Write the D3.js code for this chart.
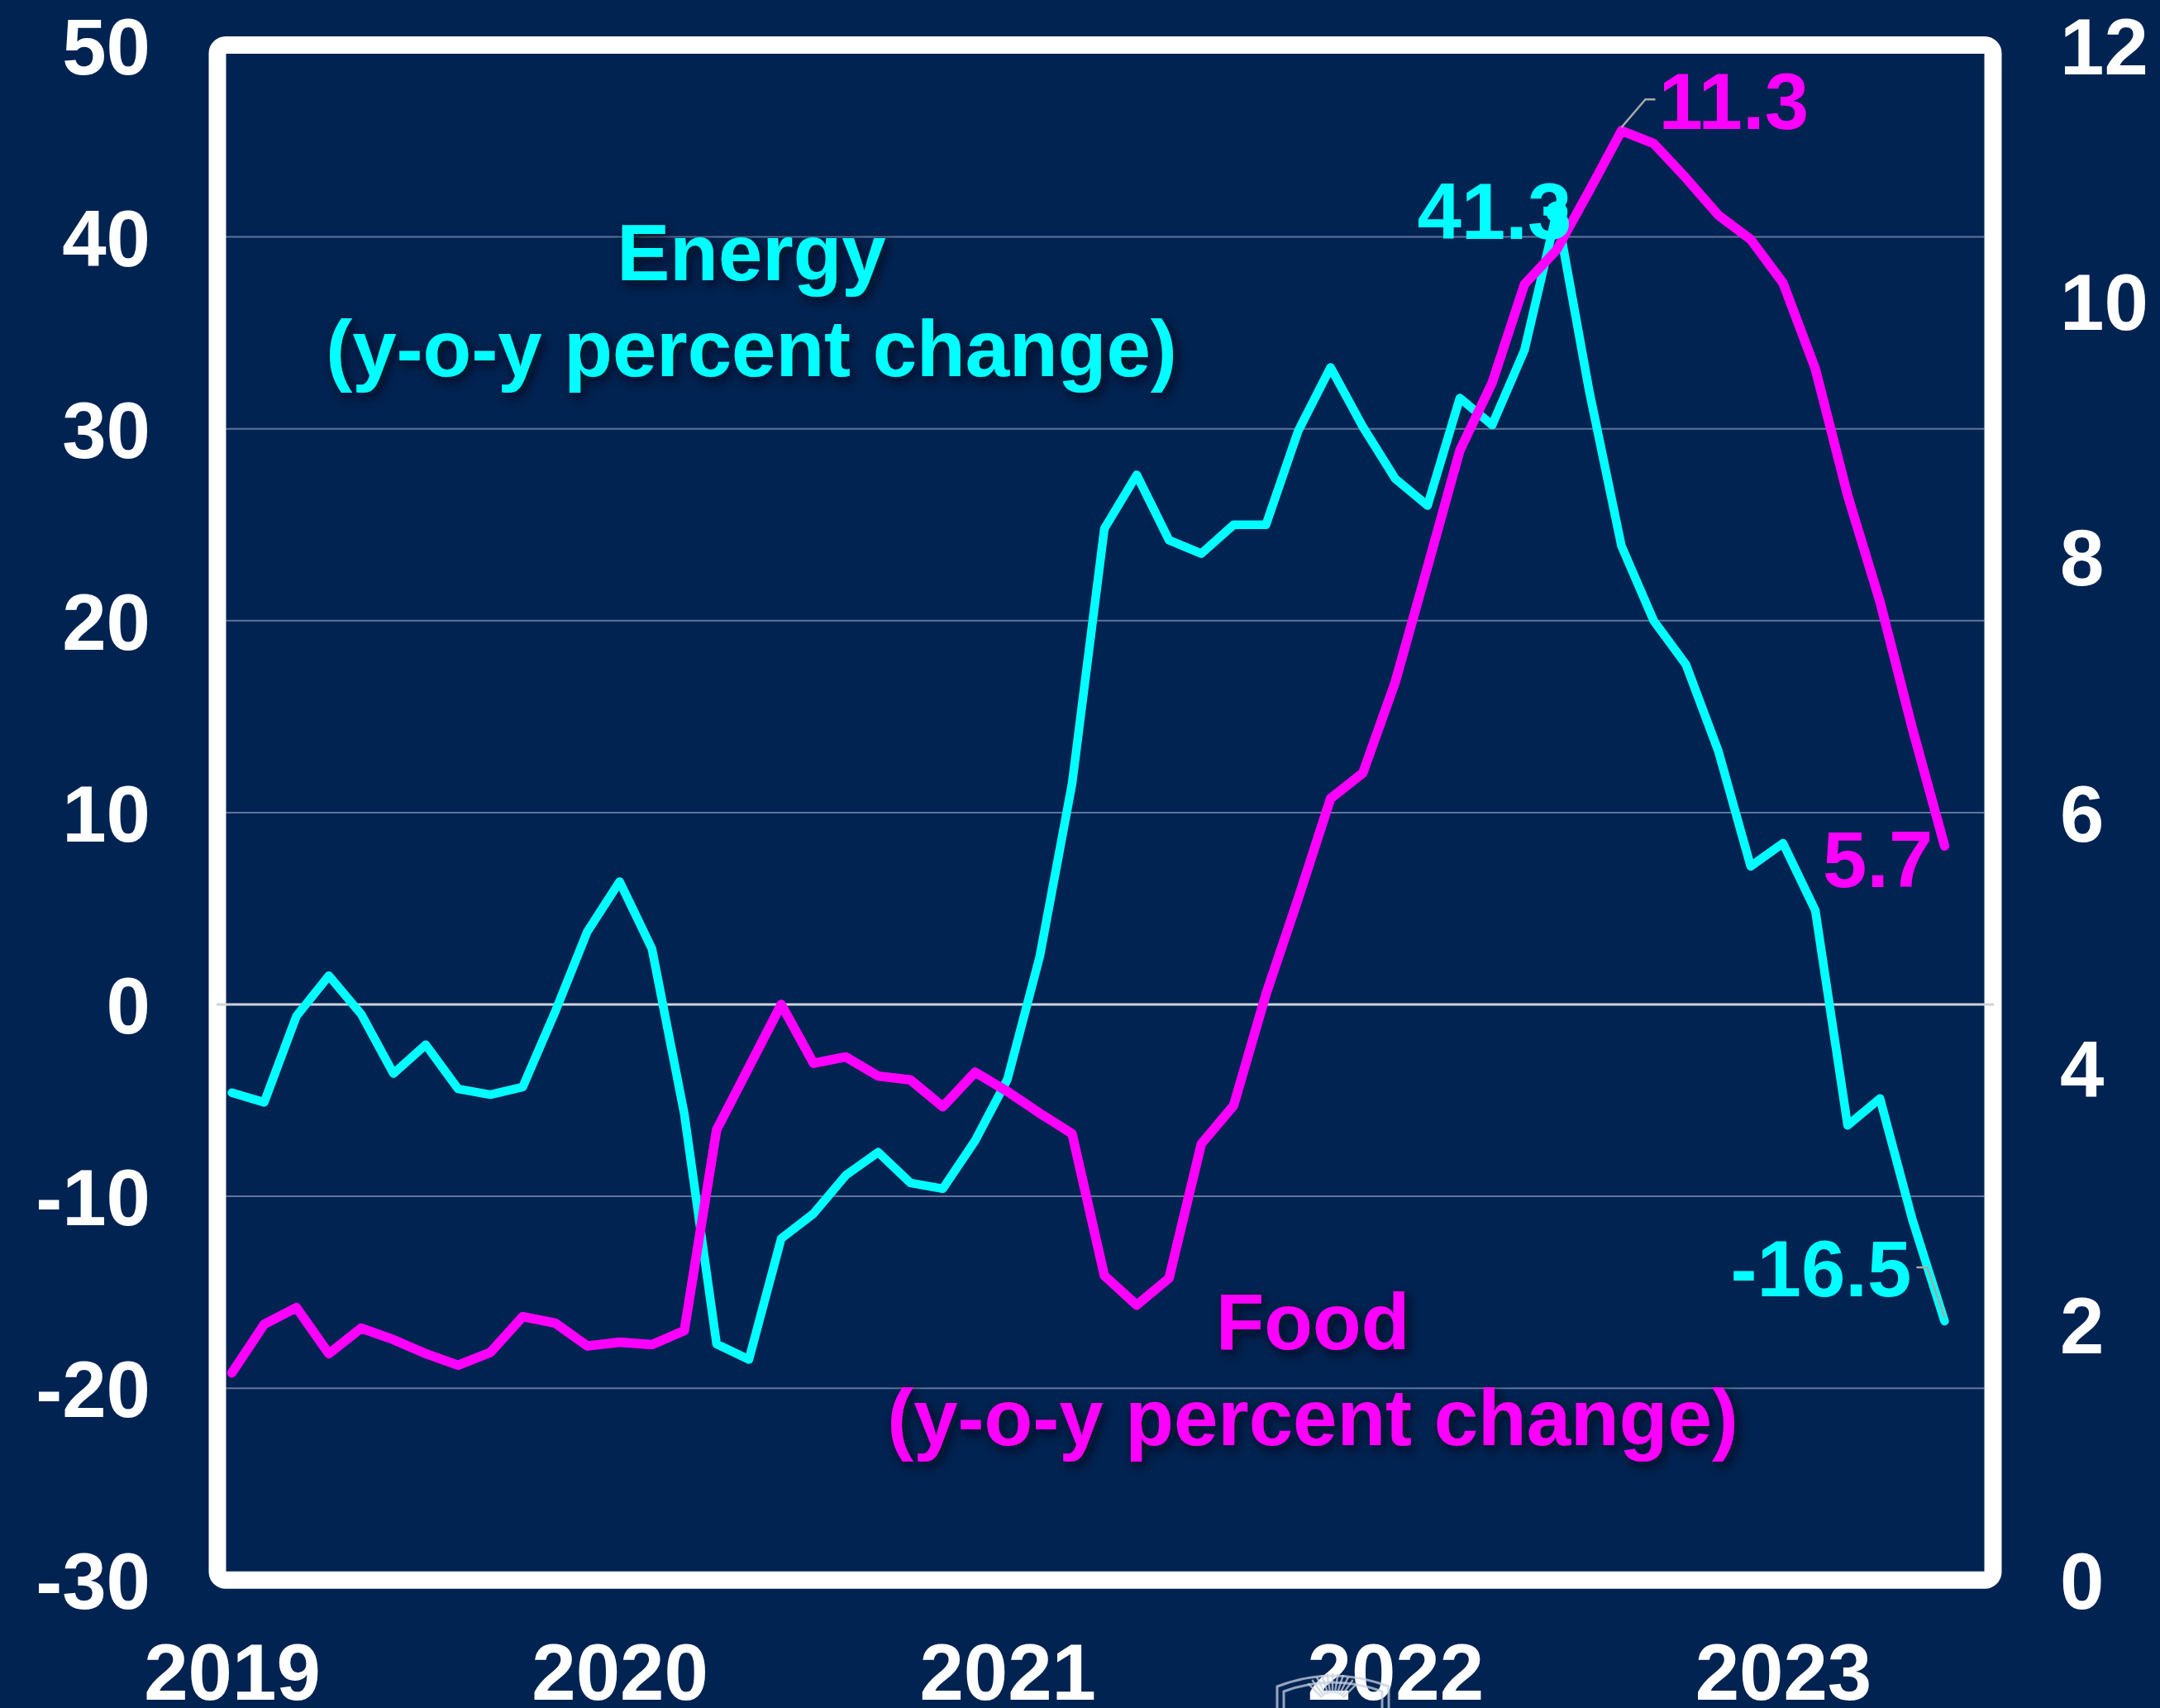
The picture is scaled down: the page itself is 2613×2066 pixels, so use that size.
<!DOCTYPE html>
<html>
<head>
<meta charset="utf-8">
<script src="https://cdn.jsdelivr.net/npm/d3@7"></script>
<style>
  html, body { margin: 0; padding: 0; background: #012352; }
  svg { display: block; }
  text { font-family: "Liberation Sans", Arial, sans-serif; font-weight: bold; }
</style>
</head>
<body>
<svg id="chart" width="2613" height="2066"></svg>
<script>
// ---- data (monthly, Jan 2019 - Jun 2023) ----
const months = d3.range(54); // month index from Jan 2019
const energy = [
  -4.6, -5.1, -0.6, 1.5, -0.5, -3.6, -2.1, -4.4, -4.7, -4.3, -0.4, 3.8,
  6.4, 2.9, -5.7, -17.7, -18.5, -12.2, -10.9, -8.9, -7.7, -9.3, -9.6, -7.1,
  -3.9, 2.5, 11.5, 24.8, 27.6, 24.2, 23.5, 25.0, 25.0, 29.9, 33.2, 30.1,
  27.4, 26.0, 31.6, 30.2, 34.1, 41.3, 32.0, 23.9, 20.0, 17.7, 13.2, 7.2,
  8.4, 4.9, -6.3, -4.9, -11.2, -16.5
];
const food = [
  1.62, 2.0, 2.13, 1.77, 1.97, 1.88, 1.77, 1.68, 1.78, 2.06, 2.01, 1.83,
  1.86, 1.84, 1.95, 3.52, 4.01, 4.5, 4.04, 4.09, 3.94, 3.91, 3.70, 3.97,
  3.82, 3.65, 3.49, 2.38, 2.15, 2.36, 3.41, 3.71, 4.58, 5.33, 6.11, 6.31,
  7.02, 7.92, 8.83, 9.36, 10.13, 10.40, 10.86, 11.33, 11.23, 10.96, 10.67, 10.48,
  10.14, 9.47, 8.48, 7.65, 6.66, 5.74
];
const yearTicks = [0, 12, 24, 36, 48];
const yearLabels = ["2019", "2020", "2021", "2022", "2023"];
const leftTicks = [-30, -20, -10, 0, 10, 20, 30, 40, 50];
const rightTicks = [0, 2, 4, 6, 8, 10, 12];
const annotations = [
  { series: "food", idx: 43, text: "11.3" },
  { series: "energy", idx: 41, text: "41.3" },
  { series: "food", idx: 53, text: "5.7" },
  { series: "energy", idx: 53, text: "-16.5" }
];

// ---- styling ----
const NAVY = "#012352", CYAN = "#00ffff", MAGENTA = "#ff00ff";
const svg = d3.select("#chart");

const defs = svg.append("defs");
const f = defs.append("filter").attr("id", "glow")
  .attr("x", "-20%").attr("y", "-50%").attr("width", "140%").attr("height", "200%");
f.append("feDropShadow").attr("dx", 4).attr("dy", 5).attr("stdDeviation", 7)
  .attr("flood-color", "#000814").attr("flood-opacity", 0.9);

// ---- scales ----
const frame = { x0: 263, x1: 2411, y0: 54.5, y1: 1911.3 };
const x = d3.scaleLinear().domain([0, 53]).range([280.5, 2352.4]);
const yL = d3.scaleLinear().domain([-30, 50]).range([frame.y1, frame.y0]);
const yR = d3.scaleLinear().domain([0, 12]).range([frame.y1, frame.y0]);

svg.append("rect").attr("width", 2613).attr("height", 2066).attr("fill", NAVY);

// gridlines
svg.append("g").selectAll("line")
  .data(leftTicks.filter(d => d !== 0 && d !== 50 && d !== -30))
  .join("line")
  .attr("x1", 273.5).attr("x2", 2400.5)
  .attr("y1", d => yL(d)).attr("y2", d => yL(d))
  .attr("stroke", "#60759a").attr("stroke-width", 2);

// frame
svg.append("rect")
  .attr("x", frame.x0).attr("y", frame.y0)
  .attr("width", frame.x1 - frame.x0).attr("height", frame.y1 - frame.y0)
  .attr("rx", 10).attr("ry", 10)
  .attr("fill", "none").attr("stroke", "#ffffff").attr("stroke-width", 21);

// zero line
svg.append("line")
  .attr("x1", 262).attr("x2", 2412)
  .attr("y1", yL(0)).attr("y2", yL(0))
  .attr("stroke", "#cfd3da").attr("stroke-width", 3);

// axes
const plain = d => String(d);
const axL = svg.append("g").attr("transform", "translate(182,0)")
  .call(d3.axisLeft(yL).tickValues(leftTicks).tickSize(0).tickPadding(0).tickFormat(plain));
const axR = svg.append("g").attr("transform", "translate(2492,0)")
  .call(d3.axisRight(yR).tickValues(rightTicks).tickSize(0).tickPadding(0).tickFormat(plain));
const axB = svg.append("g").attr("transform", "translate(0,1988)")
  .call(d3.axisBottom(x).tickValues(yearTicks).tickSize(0).tickPadding(0)
    .tickFormat((d, i) => yearLabels[i]));
[axL, axR, axB].forEach(a => {
  a.select(".domain").remove();
  a.selectAll("text").attr("fill", "#ffffff").style("font-size", "96px")
    .style("font-family", "'Liberation Sans', Arial, sans-serif").style("font-weight", "bold");
});
axL.selectAll("text").attr("dy", "0.36em");
axR.selectAll("text").attr("dy", "0.36em");
axB.selectAll("text").attr("dy", "0.71em");

// faint emblem behind 2022 label
const emb = svg.append("g").attr("fill", "none").attr("stroke", "#c8d0e0").attr("stroke-opacity", 0.75).attr("stroke-width", 3);
emb.append("path").attr("d", "M1545,2066 L1545,2040 Q1612,2014 1680,2040 L1680,2066");
emb.append("path").attr("d", "M1553,2066 L1553,2046 Q1612,2024 1672,2046 L1672,2066");
for (let k = -5; k <= 5; k++) {
  const a = (k * 9) * Math.PI / 180;
  emb.append("line")
    .attr("x1", 1612 + Math.sin(a) * 18).attr("y1", 2066 - Math.cos(a) * 18)
    .attr("x2", 1612 + Math.sin(a) * 42).attr("y2", 2066 - Math.cos(a) * 42)
    .attr("stroke-width", 2.5);
}

// lines
const lineE = d3.line().x((d, i) => x(months[i])).y(d => yL(d));
const lineF = d3.line().x((d, i) => x(months[i])).y(d => yR(d));
svg.append("path").datum(energy).attr("d", lineE)
  .attr("fill", "none").attr("stroke", CYAN).attr("stroke-width", 10.5)
  .attr("stroke-linejoin", "round").attr("stroke-linecap", "round");
svg.append("path").datum(food).attr("d", lineF)
  .attr("fill", "none").attr("stroke", MAGENTA).attr("stroke-width", 11.5)
  .attr("stroke-linejoin", "round").attr("stroke-linecap", "round");

// peak marker for energy
svg.append("circle").attr("cx", x(41)).attr("cy", yL(energy[41])).attr("r", 13).attr("fill", CYAN);

// leader lines
const lead = svg.append("g").attr("fill", "none").attr("stroke", "#a8a8a8").attr("stroke-width", 2.5);
lead.append("path").attr("d",
  `M${x(43)},${yR(food[43]) - 4} L${x(43) + 29},${yR(food[43]) - 38} L${x(43) + 41},${yR(food[43]) - 38}`);
lead.append("path").attr("d",
  `M${x(53)},${yL(energy[53]) - 4} L${x(53) - 21},${yL(energy[53]) - 65} L${x(53) - 34},${yL(energy[53]) - 65}`);

// value labels
const labelPos = [
  { x: x(43) + 45, y: yR(food[43]) - 2, color: MAGENTA, anchor: "start" },
  { x: x(41) + 18, y: yL(energy[41]) + 33, color: CYAN, anchor: "end" },
  { x: x(53) - 14, y: yR(food[53]) + 50, color: MAGENTA, anchor: "end" },
  { x: x(53) - 40, y: yL(energy[53]) - 30, color: CYAN, anchor: "end" }
];
svg.append("g").selectAll("text").data(annotations).join("text")
  .attr("x", (d, i) => labelPos[i].x).attr("y", (d, i) => labelPos[i].y)
  .attr("text-anchor", (d, i) => labelPos[i].anchor)
  .attr("fill", (d, i) => labelPos[i].color)
  .style("font-size", "96px")
  .text(d => d.text);

// series titles
const titles = [
  { lines: ["Energy", "(y-o-y percent change)"], cx: 909, y: 339, color: CYAN },
  { lines: ["Food", "(y-o-y percent change)"], cx: 1588, y: 1632, color: MAGENTA }
];
titles.forEach(t => {
  const tx = svg.append("text").attr("text-anchor", "middle").attr("fill", t.color)
    .attr("filter", "url(#glow)").style("font-size", "96px");
  t.lines.forEach((l, i) => {
    tx.append("tspan").attr("x", t.cx).attr("y", t.y + i * 116).text(l);
  });
});
</script>
</body>
</html>
